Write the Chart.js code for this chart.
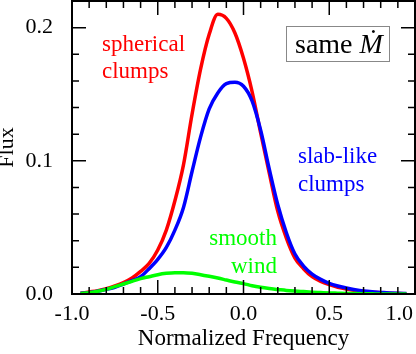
<!DOCTYPE html>
<html>
<head>
<meta charset="utf-8">
<script src="https://cdn.jsdelivr.net/npm/chart.js@4"></script>
<style>
  html, body { margin: 0; padding: 0; background: #fff; }
  canvas { display: block; }
</style>
</head>
<body>
<canvas id="flux-chart" width="416" height="354"></canvas>
<script>
// normalized frequency grid, shared by all three profiles
const freq = [
  -0.95, -0.90, -0.85, -0.80, -0.75, -0.70, -0.65, -0.60, -0.55, -0.50,
  -0.45, -0.40, -0.35, -0.30, -0.25, -0.20, -0.15, -0.10, -0.05, 0.00,
   0.05,  0.10,  0.15,  0.20,  0.25,  0.30,  0.35,  0.40,  0.45, 0.50,
   0.55,  0.60,  0.65,  0.70,  0.75,  0.80,  0.85,  0.90,  0.95
];

const sphericalClumps = [
  0.0005, 0.0015, 0.0025, 0.004, 0.006, 0.0085, 0.012, 0.017, 0.023, 0.033,
  0.048, 0.070, 0.097, 0.135, 0.169, 0.195, 0.210, 0.207, 0.196, 0.177,
  0.152, 0.121, 0.091, 0.062, 0.042, 0.027, 0.019, 0.013, 0.0095, 0.007,
  0.005, 0.0038, 0.0027, 0.0019, 0.0013, 0.001, 0.0006, 0.0004, 0.0002
];

const slabClumps = [
  0.0005, 0.001, 0.002, 0.0035, 0.005, 0.0075, 0.010, 0.013, 0.019, 0.026,
  0.035, 0.048, 0.065, 0.092, 0.118, 0.139, 0.151, 0.158, 0.159, 0.156,
  0.145, 0.123, 0.094, 0.067, 0.046, 0.030, 0.021, 0.015, 0.011, 0.008,
  0.006, 0.0045, 0.0032, 0.0022, 0.0016, 0.0012, 0.0008, 0.0005, 0.0003
];

const smoothWind = [
  0.0003, 0.001, 0.002, 0.0035, 0.0055, 0.0075, 0.0095, 0.0115, 0.013, 0.0145,
  0.0155, 0.016, 0.016, 0.0155, 0.0145, 0.0133, 0.012, 0.0105, 0.009, 0.0078,
  0.0062, 0.005, 0.0041, 0.0034, 0.0027, 0.0022, 0.0018, 0.0014, 0.0011, 0.0008,
  0.0006, 0.0004, 0.0003, 0.0002, 0.0001, 0, 0, 0, 0
];

const xTickLabels = ['-1.0', '-0.5', '0.0', '0.5', '1.0'];
const xTickValues = [-1.0, -0.5, 0.0, 0.5, 1.0];

const serif = '"Liberation Serif", "Times New Roman", serif';

function toPoints(values) {
  return freq.map((x, i) => ({ x: x, y: values[i] }));
}

// frame with inward ticks on all four sides, x tick labels, and the text notes
const framePlugin = {
  id: 'frame',
  afterDraw(chart) {
    const { ctx, chartArea: a, scales } = chart;
    const xs = scales.x, ys = scales.y;
    ctx.save();
    ctx.strokeStyle = '#000';

    // ticks
    ctx.lineWidth = 1.5;
    ctx.beginPath();
    for (let i = -10; i <= 10; i++) {
      const px = xs.getPixelForValue(i / 10);
      const len = (i % 5 === 0) ? 14 : 7;
      ctx.moveTo(px, a.bottom); ctx.lineTo(px, a.bottom - len);
      ctx.moveTo(px, a.top); ctx.lineTo(px, a.top + len);
    }
    for (let i = 0; i <= 11; i++) {
      const py = ys.getPixelForValue(i * 0.02);
      const len = (i % 5 === 0) ? 14 : 7;
      ctx.moveTo(a.left, py); ctx.lineTo(a.left + len, py);
      ctx.moveTo(a.right, py); ctx.lineTo(a.right - len, py);
    }
    ctx.stroke();

    // border
    ctx.lineWidth = 2;
    ctx.strokeRect(a.left, a.top, a.right - a.left, a.bottom - a.top);

    // x tick labels (last one pushed inside the canvas like the original)
    ctx.fillStyle = '#000';
    ctx.font = '22px ' + serif;
    ctx.textAlign = 'center';
    ctx.textBaseline = 'alphabetic';
    xTickValues.forEach((v, i) => {
      const w = ctx.measureText(xTickLabels[i]).width;
      let px = xs.getPixelForValue(v);
      px = Math.min(px, chart.width - 3 - w / 2);
      ctx.fillText(xTickLabels[i], px, 320);
    });

    // curve notes
    ctx.font = '23px ' + serif;
    ctx.textAlign = 'left';
    ctx.fillStyle = '#ff0000';
    ctx.fillText('spherical', 102, 51);
    ctx.fillText('clumps', 102, 78);
    ctx.fillStyle = '#0000ff';
    ctx.fillText('slab-like', 298, 163);
    ctx.fillText('clumps', 298, 191);
    ctx.fillStyle = '#00ff00';
    ctx.textAlign = 'right';
    ctx.fillText('smooth', 277, 245);
    ctx.fillText('wind', 277, 273);

    // "same M-dot" box
    ctx.lineWidth = 1;
    ctx.strokeStyle = '#888';
    ctx.strokeRect(286.5, 26.5, 103, 35);
    ctx.fillStyle = '#000';
    ctx.textAlign = 'left';
    ctx.font = '28px ' + serif;
    ctx.fillText('same ', 295, 53);
    const sw = ctx.measureText('same ').width;
    ctx.font = 'italic 28px ' + serif;
    ctx.fillText('\u1E40', 295 + sw, 53);

    ctx.restore();
  }
};

const ctx = document.getElementById('flux-chart').getContext('2d');
new Chart(ctx, {
  type: 'line',
  data: {
    datasets: [
      { label: 'spherical clumps', data: toPoints(sphericalClumps), borderColor: '#ff0000', order: 3 },
      { label: 'slab-like clumps', data: toPoints(slabClumps), borderColor: '#0000ff', order: 2 },
      { label: 'smooth wind', data: toPoints(smoothWind), borderColor: '#00ff00', order: 1 }
    ]
  },
  options: {
    responsive: false,
    animation: false,
    layout: { padding: { top: 1, right: 1, left: 0, bottom: 0 } },
    elements: {
      line: { borderWidth: 3.5, fill: false, cubicInterpolationMode: 'monotone' },
      point: { radius: 0 }
    },
    plugins: {
      legend: { display: false },
      tooltip: { enabled: false }
    },
    scales: {
      x: {
        type: 'linear',
        min: -1,
        max: 1,
        grid: { display: false, drawTicks: false },
        border: { display: false },
        ticks: { display: false },
        title: {
          display: true,
          text: 'Normalized Frequency',
          color: '#000',
          font: { family: serif, size: 23 },
          padding: { top: 0, bottom: 1 }
        },
        afterFit(scale) {
          scale.height = 60;
          scale.paddingLeft = 0;
          scale.paddingRight = 0;
        }
      },
      y: {
        min: 0,
        max: 0.22,
        grid: { display: false, drawTicks: false },
        border: { display: false },
        ticks: {
          stepSize: 0.1,
          includeBounds: false,
          padding: 19,
          color: '#000',
          font: { family: serif, size: 22 },
          callback: v => v.toFixed(1)
        },
        title: {
          display: true,
          text: 'Flux',
          color: '#000',
          font: { family: serif, size: 22, lineHeight: 0.7 },
          padding: { top: 0, bottom: 0 }
        },
        afterFit(scale) {
          scale.width = 72;
          scale.paddingTop = 0;
          scale.paddingBottom = 0;
        }
      }
    }
  },
  plugins: [framePlugin]
});
</script>
</body>
</html>
